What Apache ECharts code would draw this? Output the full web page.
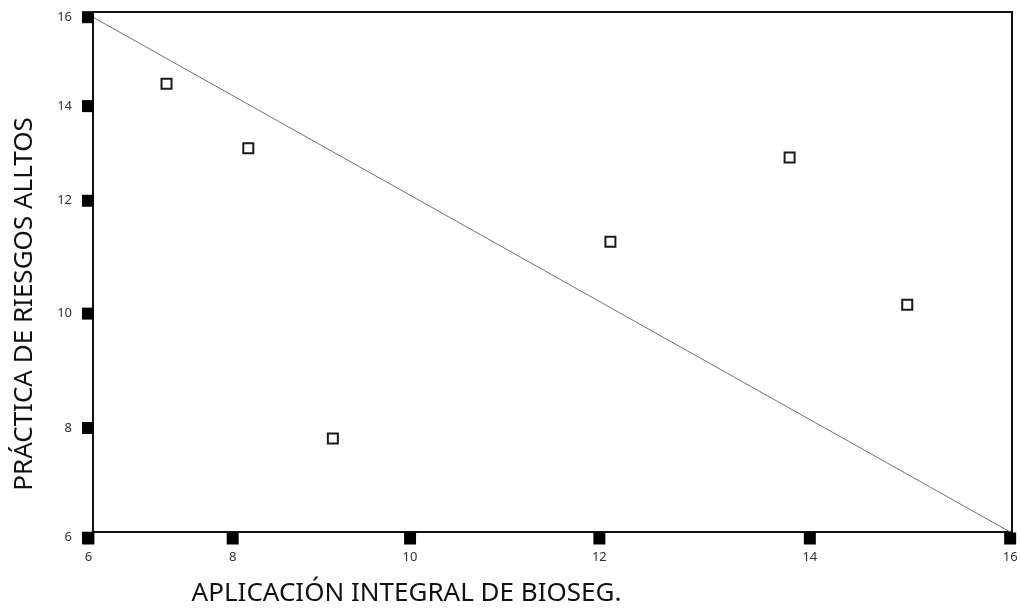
<!DOCTYPE html>
<html>
<head>
<meta charset="utf-8">
<script src="https://cdn.jsdelivr.net/npm/echarts@6/dist/echarts.min.js"></script>
<style>
html,body{margin:0;padding:0;background:#fff;}
#chart{width:1020px;height:612px;}
</style>
</head>
<body>
<div id="chart"></div>
<script>
// Open-square observations [x, y]
const points = [
  [6.80, 14.62],
  [7.69, 13.38],
  [8.61, 7.80],
  [11.63, 11.58],
  [13.58, 13.20],
  [14.86, 10.37]
];
// Black tick markers along the y axis (positions as drawn) and their labels
const yTickPos = [5.89, 8.00, 10.20, 12.37, 14.19, 15.90];
const yTickLabels = ['6', '8', '10', '12', '14', '16'];
// Black tick markers along the x axis (positions as drawn) and their labels
const xTickPos = [5.95, 7.52, 9.45, 11.51, 13.80, 15.98];
const xTickLabels = ['6', '8', '10', '12', '14', '16'];
// Diagonal reference line
const trendLine = [[6, 15.9], [15.98, 6]];

const xTitle = 'APLICACIÓN INTEGRAL DE BIOSEG.';
const yTitle = 'PRÁCTICA DE RIESGOS ALLTOS';

const FONT = "'Noto Sans', sans-serif";
const chart = echarts.init(document.getElementById('chart'), null, {renderer: 'canvas'});
chart.setOption({
  animation: false,
  backgroundColor: '#fff',
  grid: {left: 93, right: 8, top: 12, bottom: 80, show: true, borderColor: '#111', borderWidth: 2, backgroundColor: 'transparent'},
  xAxis: {
    type: 'value', min: 6, max: 16,
    axisLine: {show: false}, axisTick: {show: false}, axisLabel: {show: false}, splitLine: {show: false},
    name: xTitle, nameLocation: 'middle', nameGap: 49,
    nameTextStyle: {fontFamily: FONT, fontSize: 26, color: '#111', padding: [0, 292, 0, 0]}
  },
  yAxis: {
    type: 'value', min: 6, max: 16,
    axisLine: {show: false}, axisTick: {show: false}, axisLabel: {show: false}, splitLine: {show: false},
    name: yTitle, nameLocation: 'middle', nameGap: 55,
    nameTextStyle: {fontFamily: FONT, fontSize: 26, color: '#111', padding: [0, 64, 0, 0]}
  },
  series: [
    {
      type: 'line', data: trendLine, symbol: 'none', silent: true, z: 1,
      lineStyle: {color: '#707070', width: 1}
    },
    {
      type: 'scatter', data: points, symbol: 'rect', symbolSize: 10, silent: true, z: 3,
      itemStyle: {color: '#fff', borderColor: '#1a1a1a', borderWidth: 2, opacity: 1}
    },
    {
      type: 'scatter', data: yTickPos.map(v => [6, v]), symbol: 'rect', symbolSize: 12,
      symbolOffset: [-5, 0], clip: false, silent: true, z: 4,
      itemStyle: {color: '#000', opacity: 1},
      label: {show: true, position: 'left', distance: 10, fontFamily: FONT, fontSize: 13, color: '#333',
        formatter: p => yTickLabels[p.dataIndex]}
    },
    {
      type: 'scatter', data: xTickPos.map(v => [v, 6]), symbol: 'rect', symbolSize: 12,
      symbolOffset: [0, 6.5], clip: false, silent: true, z: 4,
      itemStyle: {color: '#000', opacity: 1},
      label: {show: true, position: 'bottom', distance: 6, fontFamily: FONT, fontSize: 13, color: '#333',
        formatter: p => xTickLabels[p.dataIndex]}
    }
  ]
});
</script>
</body>
</html>
